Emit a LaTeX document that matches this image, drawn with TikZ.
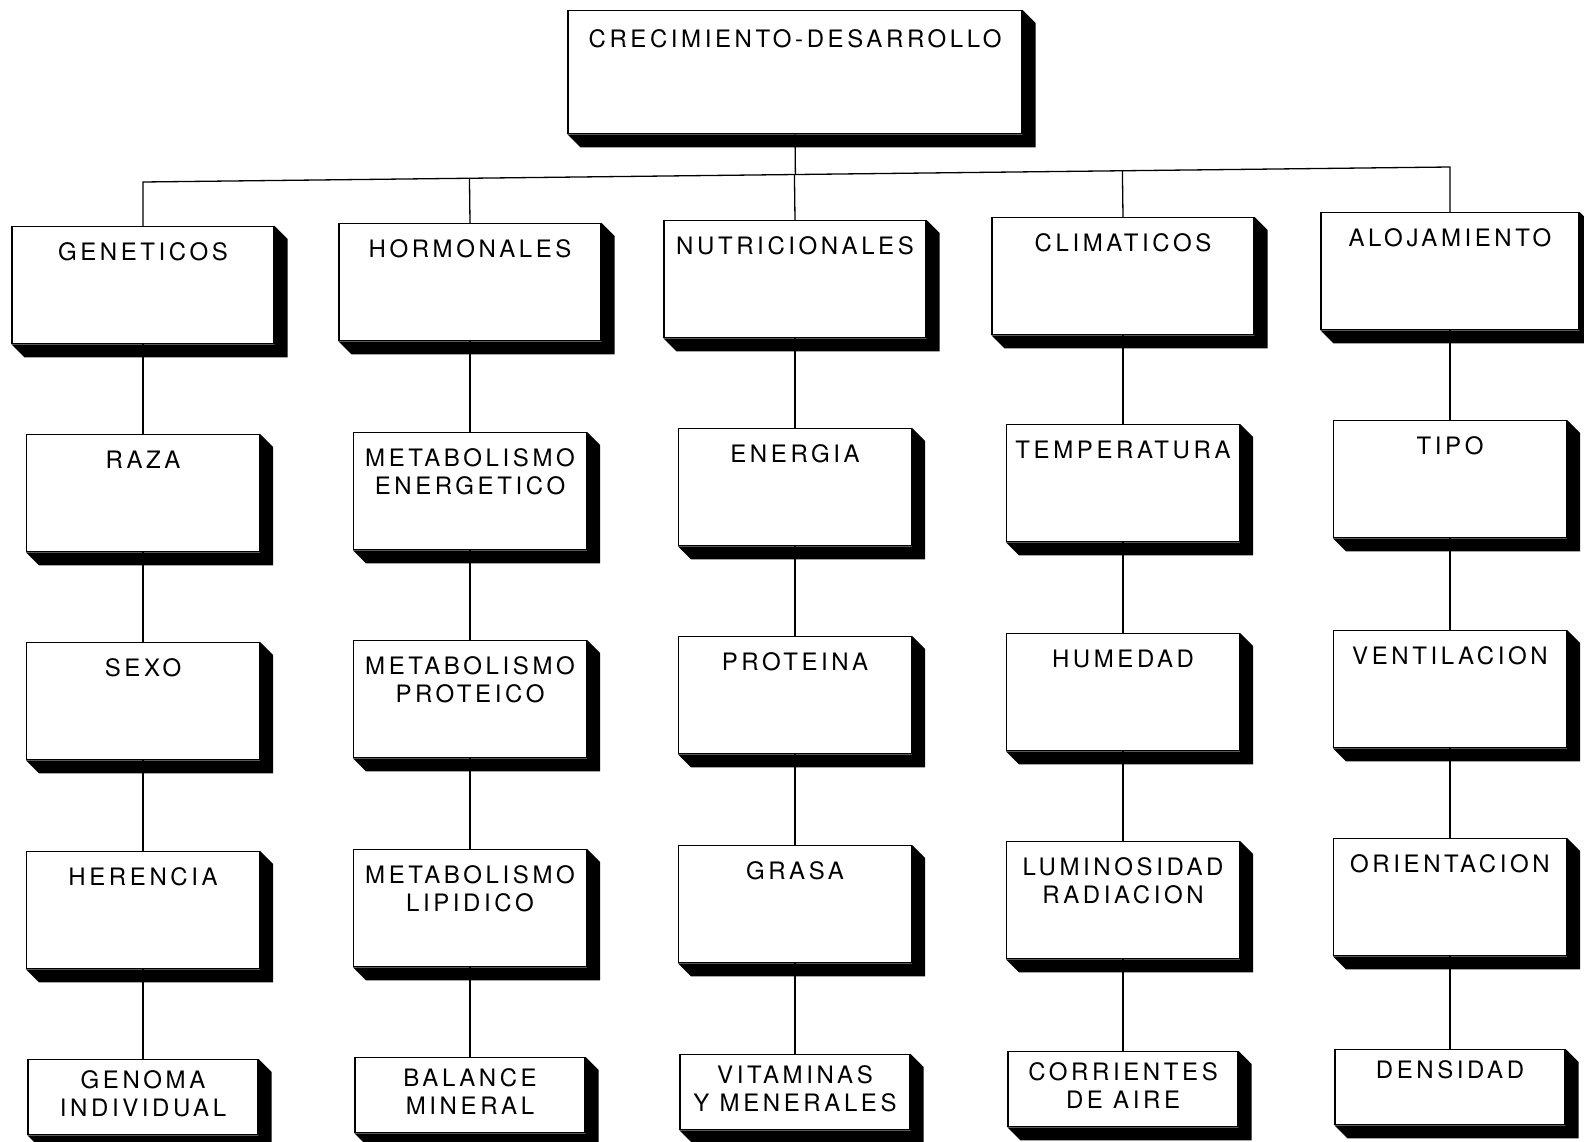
\documentclass[tikz,border=0pt]{standalone}
\usepackage{fontspec}
\newfontfamily\cajafont[LetterSpace=15]{TeX Gyre Heros}
\usetikzlibrary{calc}

\tikzset{
  caja/.style={draw, fill=white, anchor=north, inner sep=0pt},
  hdr/.style={caja, minimum width=262, minimum height=117},
  sub/.style={caja, minimum width=233, minimum height=117},
  low/.style={caja, minimum width=230, minimum height=75},
  txt/.style={anchor=north, inner sep=0pt, align=center, yshift=-16pt,
    font=\cajafont\fontsize{24}{28}\selectfont},
}

\begin{document}
\begin{tikzpicture}[x=1pt, y=-1pt, line width=1.3pt]
\path[use as bounding box, fill=white] (0,0) rectangle (1584,1142);

\node[caja, minimum width=454, minimum height=123, label={[txt, yshift=-3pt]north:CRECIMIENTO-DESARROLLO}] (root) at (795,10) {};

% factores
\node[hdr, label={[txt]north:GENETICOS}] (gen) at (143,226) {};
\node[hdr, label={[txt]north:HORMONALES}] (hor) at (470,223) {};
\node[hdr, label={[txt]north:NUTRICIONALES}] (nut) at (795,220) {};
\node[hdr, label={[txt]north:CLIMATICOS}] (cli) at (1123,217) {};
\node[hdr, minimum width=258, label={[txt]north:ALOJAMIENTO}] (alo) at (1450,212) {};

\node[sub, label={[txt]north:RAZA}] (raza) at (143,434) {};
\node[sub, label={[txt]north:METABOLISMO\\ENERGETICO}] (mene) at (470,432) {};
\node[sub, label={[txt]north:ENERGIA}] (ener) at (795,428) {};
\node[sub, label={[txt]north:TEMPERATURA}] (temp) at (1123,424) {};
\node[sub, label={[txt]north:TIPO}] (tipo) at (1450,420) {};

\node[sub, label={[txt]north:SEXO}] (sexo) at (143,642) {};
\node[sub, label={[txt]north:METABOLISMO\\PROTEICO}] (mpro) at (470,640) {};
\node[sub, label={[txt]north:PROTEINA}] (prot) at (795,636) {};
\node[sub, label={[txt]north:HUMEDAD}] (hume) at (1123,633) {};
\node[sub, label={[txt]north:VENTILACION}] (vent) at (1450,630) {};

\node[sub, label={[txt]north:HERENCIA}] (here) at (143,851) {};
\node[sub, label={[txt]north:METABOLISMO\\LIPIDICO}] (mlip) at (470,849) {};
\node[sub, label={[txt]north:GRASA}] (gras) at (795,845) {};
\node[sub, label={[txt]north:LUMINOSIDAD\\RADIACION}] (lumi) at (1123,841) {};
\node[sub, label={[txt]north:ORIENTACION}] (orie) at (1450,838) {};

\node[low, label={[txt, yshift=5pt]north:GENOMA\\INDIVIDUAL}] (geno) at (143,1059) {};
\node[low, label={[txt, yshift=5pt]north:BALANCE\\MINERAL}] (bala) at (470,1057) {};
\node[low, label={[txt, yshift=5pt]north:VITAMINAS\\Y MENERALES}] (vita) at (795,1054) {};
\node[low, label={[txt, yshift=5pt]north:CORRIENTES\\DE AIRE}] (corr) at (1123,1051) {};
\node[low, label={[txt, yshift=5pt]north:DENSIDAD}] (dens) at (1450,1049) {};

% sombras
\foreach \n in {root,gen,hor,nut,cli,alo,raza,mene,ener,temp,tipo,sexo,mpro,prot,hume,vent,here,mlip,gras,lumi,orie,geno,bala,vita,corr,dens}
  \fill (\n.north east) -- ++(13,13) |- ([shift={(13,13)}]\n.south west)
    -- (\n.south west) -- (\n.south east) -- cycle;

% lineas
\coordinate (bl) at (143,182);
\coordinate (br) at (1450,167);
\draw (gen.north) -- (bl) -- (br) -- (alo.north);
\draw (root.south) -- ($(bl)!(root.south)!(br)$);
\foreach \n in {hor,nut,cli}
  \draw (\n.north) -- ($(bl)!(\n.north)!(br)$);

\draw (gen) -- (raza) -- (sexo) -- (here) -- (geno);
\draw (hor) -- (mene) -- (mpro) -- (mlip) -- (bala);
\draw (nut) -- (ener) -- (prot) -- (gras) -- (vita);
\draw (cli) -- (temp) -- (hume) -- (lumi) -- (corr);
\draw (alo) -- (tipo) -- (vent) -- (orie) -- (dens);

\end{tikzpicture}
\end{document}
